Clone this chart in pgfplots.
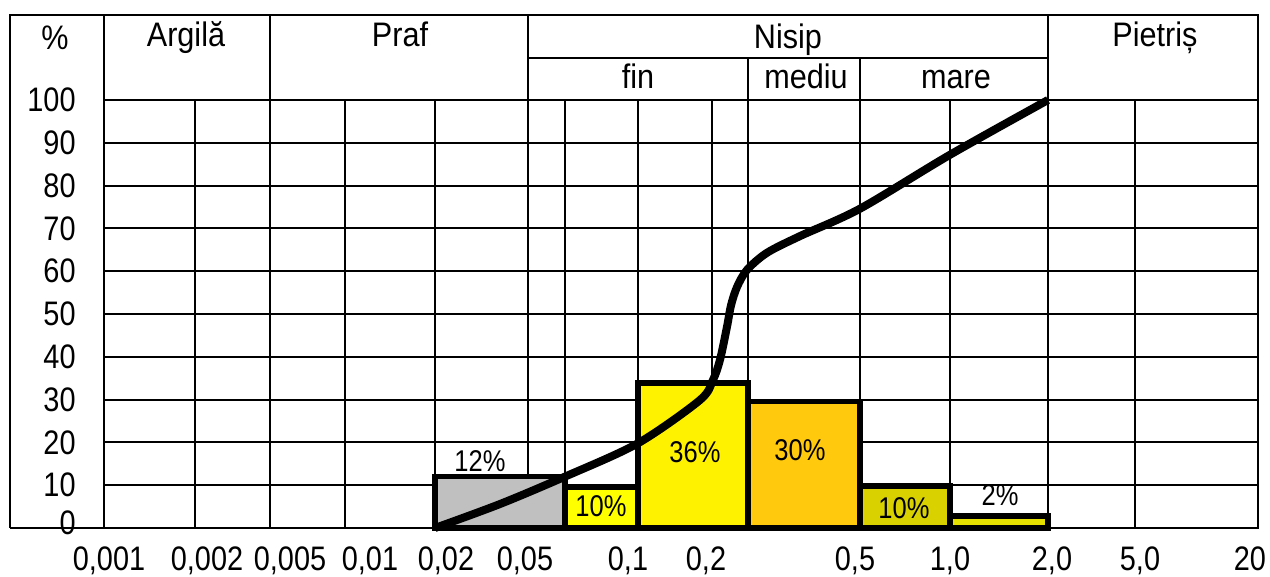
\documentclass[border=0pt]{standalone}
\usepackage{fontspec}
\setmainfont{Liberation Sans}[FakeStretch=0.85]
\newfontfamily\hdr{Liberation Sans}[FakeStretch=0.9]
\usepackage{pgfplots}
\pgfplotsset{compat=1.18}
\definecolor{cgrey}{HTML}{C0C0C0}
\definecolor{cyel}{HTML}{FFFF00}
\definecolor{cyelb}{HTML}{FFF200}
\definecolor{corange}{HTML}{FFC90E}
\definecolor{colive}{HTML}{D9D200}
\definecolor{cyelc}{HTML}{E6E000}
\begin{document}
\begin{tikzpicture}
\begin{axis}[
  scale only axis, width=577pt, height=214pt,
  xmin=104, xmax=1258, ymin=0, ymax=100,
  clip=false,
  axis line style={black, line width=1pt},
  xtick={109,207,290,370,446,525,628,706,855,950,1052,1140,1250},
  xticklabels={{0,001},{0,002},{0,005},{0,01},{0,02},{0,05},{0,1},{0,2},{0,5},{1,0},{2,0},{5,0},{20}},
  xticklabel style={anchor=base, inner sep=0pt, yshift=-21.5pt, font=\fontsize{17}{20}\selectfont},
  ytick={0,10,...,100},
  yticklabels={\raisebox{5pt}{0},10,20,30,40,50,60,70,80,90,100},
  yticklabel style={anchor=east, inner sep=0pt, xshift=-14pt, font=\fontsize{17}{20}\selectfont},
  major tick length=0pt,
  ymajorgrids,
  extra x ticks={195,270,345,435,528,565,638,712,748,860,950,1048,1135},
  extra x tick labels={,,,,,,,,,,,,},
  extra x tick style={grid=major},
  grid style={black, line width=1pt},
]
% table frame (header and outer border)
\draw[black, line width=1pt] (axis cs:10,0) -- (axis cs:104,0);
\draw[black, line width=1pt] (axis cs:10,0) -- (axis cs:10,119.86) -- (axis cs:1258,119.86) -- (axis cs:1258,100);
\draw[black, line width=1pt] (axis cs:104,100) -- (axis cs:104,119.86);
\draw[black, line width=1pt] (axis cs:270,100) -- (axis cs:270,119.86);
\draw[black, line width=1pt] (axis cs:528,100) -- (axis cs:528,119.86);
\draw[black, line width=1pt] (axis cs:1048,100) -- (axis cs:1048,119.86);
\draw[black, line width=1pt] (axis cs:528,109.8) -- (axis cs:1048,109.8);
\draw[black, line width=1pt] (axis cs:748,100) -- (axis cs:748,109.8);
\draw[black, line width=1pt] (axis cs:860,100) -- (axis cs:860,109.8);
% header text
\node[anchor=base, font=\hdr\fontsize{17}{20}\selectfont] at (axis cs:55,111.7) {\%};
\node[anchor=base, font=\hdr\fontsize{17}{20}\selectfont] at (axis cs:186,112.4) {Argilă};
\node[anchor=base, font=\hdr\fontsize{17}{20}\selectfont] at (axis cs:400,112.4) {Praf};
\node[anchor=base, font=\hdr\fontsize{17}{20}\selectfont] at (axis cs:788,112.1) {Nisip};
\node[anchor=base, font=\hdr\fontsize{17}{20}\selectfont] at (axis cs:1155,112.4) {Pietriș};
\node[anchor=base, font=\hdr\fontsize{17}{20}\selectfont] at (axis cs:638,102.8) {fin};
\node[anchor=base, font=\hdr\fontsize{17}{20}\selectfont] at (axis cs:806,102.8) {mediu};
\node[anchor=base, font=\hdr\fontsize{17}{20}\selectfont] at (axis cs:956,102.8) {mare};
% histogram boxes
\addplot[draw=black, fill=cgrey, line width=2.75pt] coordinates {(435,0) (435,12) (565,12) (565,0)} --cycle;
\addplot[draw=black, fill=cyel, line width=2.75pt] coordinates {(565,0) (565,9.6) (638,9.6) (638,0)} --cycle;
\addplot[draw=black, fill=cyelb, line width=2.75pt] coordinates {(638,0) (638,33.9) (748,33.9) (748,0)} --cycle;
\addplot[draw=black, fill=corange, line width=2.75pt] coordinates {(748,0) (748,29.6) (860,29.6) (860,0)} --cycle;
\addplot[draw=black, fill=colive, line width=2.75pt] coordinates {(860,0) (860,9.8) (950,9.8) (950,0)} --cycle;
\addplot[draw=black, fill=cyelc, line width=2.75pt] coordinates {(950,0) (950,2.8) (1048,2.8) (1048,0)} --cycle;
% cumulative curve
\addplot[black, line width=4pt, smooth] coordinates {
(435,0) (500,5.6) (565,12) (638,19.8) (700,29.9)
(713,34.6) (720,39.3) (727,47) (731,52) (737,56.3) (747,60.3) (767,64.3) (800,68.2)
(860,74.6) (950,87.2) (1048,100)};
% box labels
\node[font=\fontsize{15}{17}\selectfont] at (axis cs:480,15.7) {12\%};
\node[font=\fontsize{15}{17}\selectfont] at (axis cs:601,5.1) {10\%};
\node[font=\fontsize{15}{17}\selectfont] at (axis cs:695,17.8) {36\%};
\node[font=\fontsize{15}{17}\selectfont] at (axis cs:800,18.2) {30\%};
\node[font=\fontsize{15}{17}\selectfont] at (axis cs:904,4.7) {10\%};
\node[font=\fontsize{15}{17}\selectfont] at (axis cs:1000,7.7) {2\%};
% bounding box matching the reference
\path (axis cs:0,123.36) rectangle (axis cs:1270,-11.45);
\end{axis}
\end{tikzpicture}
\end{document}
